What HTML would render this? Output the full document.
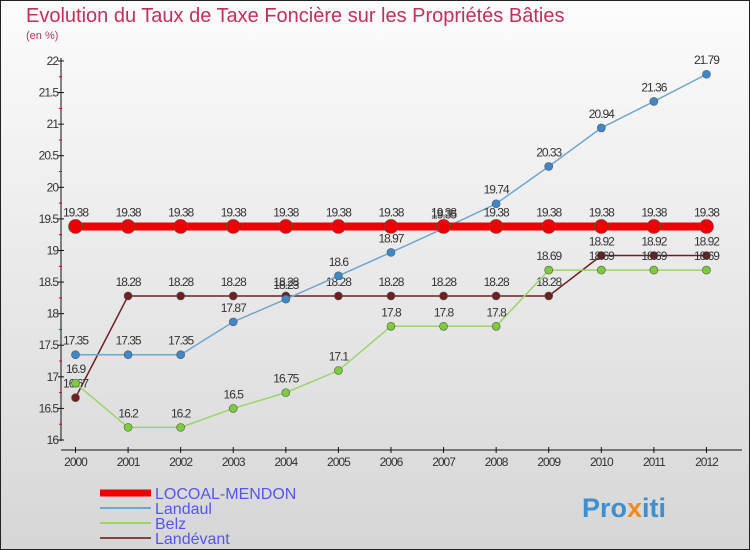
<!DOCTYPE html>
<html><head><meta charset="utf-8"><style>
body{margin:0;width:750px;height:550px;overflow:hidden}
svg{display:block;font-family:"Liberation Sans",sans-serif}
</style></head><body>
<svg width="750" height="550">
<defs><linearGradient id="bg" x1="0" y1="0" x2="0" y2="1"><stop offset="0" stop-color="#fcfcfc"/><stop offset="1" stop-color="#d6d6d6"/></linearGradient></defs>
<rect x="0.5" y="0.5" width="749" height="549" fill="url(#bg)" stroke="#222"/>
<text x="26" y="22" font-size="20" fill="#c0305a">Evolution du Taux de Taxe Foncière sur les Propriétés Bâties</text>
<text x="26" y="39" font-size="11" fill="#c0305a">(en %)</text>
<g id="axes"></g>
<g id="series"></g>
<g id="legend"></g>
<text x="582" y="517" font-size="27" font-weight="bold" fill="#3d8fd0">Pro<tspan fill="#f08a1c">x</tspan>iti</text>
</svg>
<script>
const years=[2000,2001,2002,2003,2004,2005,2006,2007,2008,2009,2010,2011,2012];
const locoal=[19.38,19.38,19.38,19.38,19.38,19.38,19.38,19.38,19.38,19.38,19.38,19.38,19.38];
const landaul=[17.35,17.35,17.35,17.87,18.23,18.6,18.97,19.35,19.74,20.33,20.94,21.36,21.79];
const belz=[16.9,16.2,16.2,16.5,16.75,17.1,17.8,17.8,17.8,18.69,18.69,18.69,18.69];
const landevant=[16.67,18.28,18.28,18.28,18.28,18.28,18.28,18.28,18.28,18.28,18.92,18.92,18.92];
const yTicks=[16,16.5,17,17.5,18,18.5,19,19.5,20,20.5,21,21.5,22];
const NS='http://www.w3.org/2000/svg';
const X=y=>75.5+(y-2000)*52.58;
const Y=v=>440-(v-16)*63.17;
function mk(p,t,a){const e=document.createElementNS(NS,t);for(const k in a)e.setAttribute(k,a[k]);p.appendChild(e);return e;}
const ax=document.getElementById('axes');
let e=mk(ax,'line',{x1:61,y1:58,x2:61,y2:441,stroke:'#111'});


e=mk(ax,'line',{x1:61,y1:450,x2:742,y2:450,stroke:'#111'});


yTicks.forEach(v=>{mk(ax,'line',{x1:58,x2:64,y1:Y(v),y2:Y(v),stroke:'#111'});
 if(v<22)mk(ax,'line',{x1:59,x2:62,y1:Y(v+0.25),y2:Y(v+0.25),stroke:'#e00'});
 const t=mk(ax,'text',{x:58,y:Y(v)+4,'text-anchor':'end','font-size':12,fill:'#333','letter-spacing':'-1'});t.textContent=String(v);
 
 });
years.forEach(y=>{mk(ax,'line',{x1:X(y),x2:X(y),y1:447,y2:453,stroke:'#111'});
 const t=mk(ax,'text',{x:X(y),y:466,'text-anchor':'middle','font-size':12,fill:'#333','letter-spacing':'-1'});t.textContent=y;
 
 });
const sg=document.getElementById('series');
const defs=[[landevant,'#6e2020','#6e2020',1.5,4,'landevant'],[belz,'#9ad46a','#7ccc3c',1.5,4,'belz'],[landaul,'#6fa6d0','#3d88c8',1.5,4,'landaul'],[locoal,'#ee0000','#ee0000',8,7,'locoal-mendon']];
defs.forEach(([d,lc,pc,w,r,n])=>{
 const g=mk(sg,'g',{});
 
 
 const l=mk(g,'polyline',{points:d.map((v,i)=>X(years[i])+','+Y(v)).join(' '),fill:'none',stroke:lc,'stroke-width':w});
 
 
 d.forEach((v,i)=>{const c=mk(g,'circle',{cx:X(years[i]),cy:Y(v),r:r,fill:pc,stroke:'#555','stroke-width':0.6});
  
  
  const t=mk(g,'text',{x:X(years[i]),y:Y(v)-10,'text-anchor':'middle','font-size':12,fill:'#333','letter-spacing':'-1'});t.textContent=String(v);
  
  });
});
const lg=document.getElementById('legend');
[['LOCOAL-MENDON','#ee0000',7],['Landaul','#6fa6d0',2],['Belz','#9ad46a',2],['Landévant','#8a4040',2]].forEach(([n,c,w],i)=>{
 const y=493+i*15;
 const l=mk(lg,'line',{x1:100,x2:151,y1:y,y2:y,stroke:c,'stroke-width':w});
 
 
 const t=mk(lg,'text',{x:155,y:y+6,'font-size':16,fill:'#5555ee'});t.textContent=n;
 
 
});
</script>
</body></html>
